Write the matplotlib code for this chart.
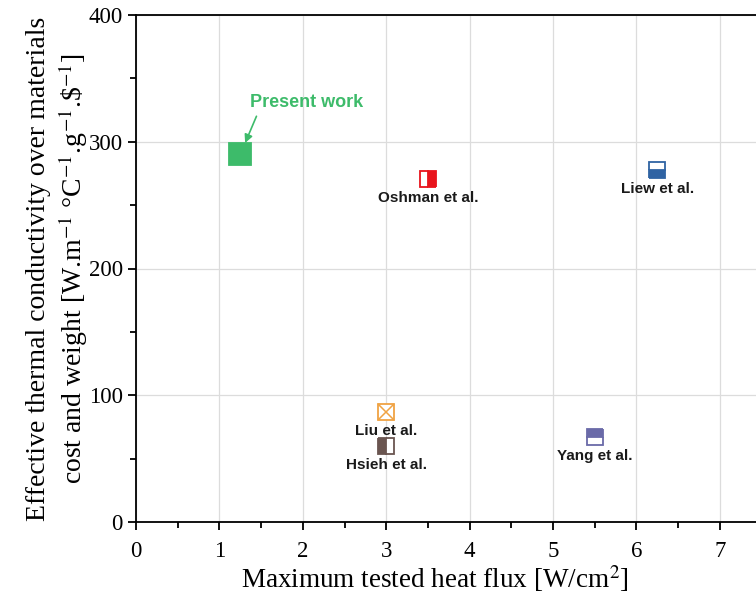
import matplotlib.pyplot as plt
from matplotlib.ticker import MultipleLocator

plt.rcParams['font.family'] = ['Liberation Serif', 'DejaVu Serif']
plt.rcParams['mathtext.fontset'] = 'stix'

# data
studies = ['Present work', 'Oshman et al.', 'Liew et al.', 'Liu et al.', 'Hsieh et al.', 'Yang et al.']
heat_flux = [1.25, 3.5, 6.25, 3.0, 3.0, 5.5]
k_eff = [290, 271, 278, 87, 60, 67]
colors = ['#3dbb6a', '#e8141c', '#2f63a3', '#f0a343', '#6a5550', '#6a6aa8']
fills = ['full', 'right', 'bottom', 'none', 'left', 'top']

xmax = 7.6
fig = plt.figure(figsize=(7.56, 5.99), dpi=100)
ax = fig.add_axes([136/756, 1-522/599, xmax*83.4/756, (522-15)/599])

for i in range(len(studies)):
    ms = 16 if i == 0 else 11.5
    if fills[i] == 'none':
        ax.plot(heat_flux[i], k_eff[i], marker='s', ms=ms, mfc='white', mec=colors[i], mew=1.3, ls='none', zorder=3)
        ax.plot(heat_flux[i], k_eff[i], marker='x', ms=ms*0.95, mec=colors[i], mew=1.1, ls='none', zorder=4)
    else:
        ax.plot(heat_flux[i], k_eff[i], marker='s', ms=ms, fillstyle=fills[i], mfc=colors[i],
                markerfacecoloralt='white', mec=colors[i], mew=1.3, ls='none', zorder=3)

# study labels
for i in range(1, len(studies)):
    ax.annotate(studies[i], (heat_flux[i], k_eff[i]), xytext=(0, -19), textcoords='offset pixels',
                ha='center', va='center', fontsize=11, fontweight='bold',
                family=['Liberation Sans', 'DejaVu Sans'], color='#1a1a1a', zorder=5)

ax.annotate(studies[0], (heat_flux[0], k_eff[0]), xytext=(66, 52), textcoords='offset pixels',
            ha='center', va='center', fontsize=13, fontweight='bold',
            family=['Liberation Sans', 'DejaVu Sans'], color=colors[0],
            arrowprops=dict(arrowstyle='-|>', color=colors[0], lw=1.2, mutation_scale=12,
                            shrinkA=2, shrinkB=9, relpos=(0.08, 0)))

ax.set_xlim(0, xmax)
ax.set_ylim(0, 400)
ax.xaxis.set_major_locator(MultipleLocator(1))
ax.xaxis.set_minor_locator(MultipleLocator(0.5))
ax.yaxis.set_major_locator(MultipleLocator(100))
ax.yaxis.set_minor_locator(MultipleLocator(50))
ax.tick_params(which='major', direction='out', length=6, width=1.3, labelsize=16.5)
ax.tick_params(axis='x', which='major', pad=8)
ax.tick_params(which='minor', direction='out', length=4, width=1.3)
ax.grid(True, which='major', color='#dcdcdc', lw=0.9, zorder=0)
ax.set_axisbelow(True)
for s in ax.spines.values():
    s.set_linewidth(1.3)

ax.set_xlabel('Maximum tested heat flux [W/cm$^2$]', fontsize=19.5)
ax.xaxis.set_label_coords((435-136)/(xmax*83.4), -0.082)
ax.set_ylabel('Effective thermal conductivity over materials\n'
              'cost and weight [W.m$^{-1}$ °C$^{-1}$.g$^{-1}$.\\$$^{-1}$]',
              fontsize=20, linespacing=1.2)
ax.yaxis.set_label_coords(-0.073, 0.5)

fig.savefig('out.png', dpi=100)
